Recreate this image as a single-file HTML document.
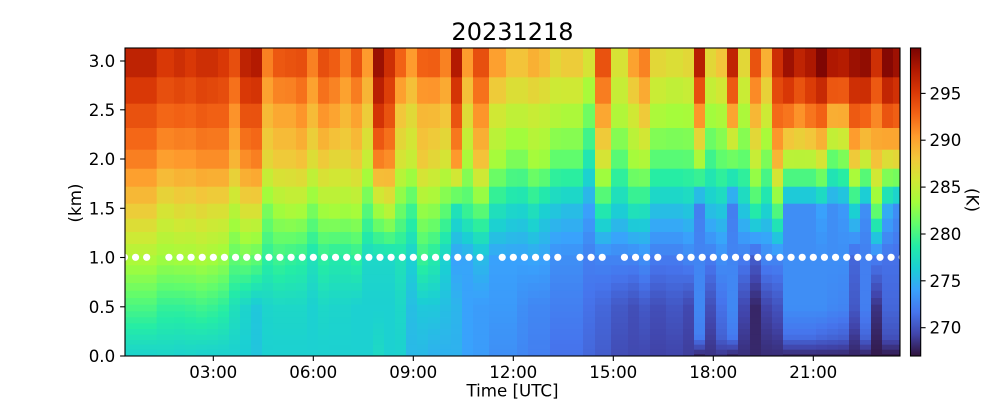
<!DOCTYPE html>
<html>
<head>
<meta charset="utf-8">
<style>
html,body{margin:0;padding:0;background:#fff;}
svg{display:block;}
svg text{font-family:"DejaVu Sans","Liberation Sans",sans-serif;fill:#000;}
</style>
</head>
<body>
<svg id="s" width="1000" height="400" viewBox="0 0 1000 400" xmlns="http://www.w3.org/2000/svg">
<defs>
<clipPath id="cp"><rect x="125" y="48" width="775" height="308"/></clipPath>
<linearGradient id="cb" x1="0" y1="1" x2="0" y2="0">
<stop offset="0" stop-color="#30123b"/>
<stop offset="0.0714" stop-color="#4145ab"/>
<stop offset="0.1429" stop-color="#4675ed"/>
<stop offset="0.2143" stop-color="#39a2fc"/>
<stop offset="0.2857" stop-color="#1bcfd4"/>
<stop offset="0.3571" stop-color="#24eca6"/>
<stop offset="0.4286" stop-color="#61fc6c"/>
<stop offset="0.5" stop-color="#a4fc3b"/>
<stop offset="0.5714" stop-color="#d1e834"/>
<stop offset="0.6429" stop-color="#f3c63a"/>
<stop offset="0.7143" stop-color="#fe9b2d"/>
<stop offset="0.7857" stop-color="#f36315"/>
<stop offset="0.8571" stop-color="#d93806"/>
<stop offset="0.9286" stop-color="#b11901"/>
<stop offset="1" stop-color="#7a0403"/>
</linearGradient>
</defs>
<rect width="1000" height="400" fill="#fff"/>
<g id="hm" clip-path="url(#cp)"></g>
<g id="dots" clip-path="url(#cp)" fill="#fff"></g>
<rect x="125" y="48" width="775" height="308" fill="none" stroke="#000" stroke-width="1.1"/>

<text x="512.5" y="40" font-size="24" text-anchor="middle">20231218</text>

<g stroke="#000" stroke-width="1.1">
<line x1="213.3" y1="356" x2="213.3" y2="361"/>
<line x1="313.3" y1="356" x2="313.3" y2="361"/>
<line x1="413.3" y1="356" x2="413.3" y2="361"/>
<line x1="513.3" y1="356" x2="513.3" y2="361"/>
<line x1="613.3" y1="356" x2="613.3" y2="361"/>
<line x1="713.3" y1="356" x2="713.3" y2="361"/>
<line x1="813.3" y1="356" x2="813.3" y2="361"/>
</g>
<g font-size="16.67" text-anchor="middle">
<text x="213.3" y="378">03:00</text>
<text x="313.3" y="378">06:00</text>
<text x="413.3" y="378">09:00</text>
<text x="513.3" y="378">12:00</text>
<text x="613.3" y="378">15:00</text>
<text x="713.3" y="378">18:00</text>
<text x="813.3" y="378">21:00</text>
<text x="512.5" y="396.5">Time [UTC]</text>
</g>

<g stroke="#000" stroke-width="1.1">
<line x1="120.1" y1="356" x2="125" y2="356"/>
<line x1="120.1" y1="306.8" x2="125" y2="306.8"/>
<line x1="120.1" y1="257.5" x2="125" y2="257.5"/>
<line x1="120.1" y1="208.3" x2="125" y2="208.3"/>
<line x1="120.1" y1="159" x2="125" y2="159"/>
<line x1="120.1" y1="109.8" x2="125" y2="109.8"/>
<line x1="120.1" y1="61" x2="125" y2="61"/>
</g>
<g font-size="16.67" text-anchor="end">
<text x="115.2" y="362">0.0</text>
<text x="115.2" y="312.8">0.5</text>
<text x="115.2" y="263.5">1.0</text>
<text x="115.2" y="214.3">1.5</text>
<text x="115.2" y="165">2.0</text>
<text x="115.2" y="115.8">2.5</text>
<text x="115.2" y="67">3.0</text>
</g>
<text font-size="16.67" text-anchor="middle" transform="translate(81,203) rotate(-90)">(km)</text>

<rect x="910.5" y="48" width="10.2" height="308" fill="url(#cb)" stroke="#000" stroke-width="1.1"/>
<g stroke="#000" stroke-width="1.1">
<line x1="920.7" y1="327.7" x2="925.6" y2="327.7"/>
<line x1="920.7" y1="280.8" x2="925.6" y2="280.8"/>
<line x1="920.7" y1="234" x2="925.6" y2="234"/>
<line x1="920.7" y1="187.1" x2="925.6" y2="187.1"/>
<line x1="920.7" y1="140.2" x2="925.6" y2="140.2"/>
<line x1="920.7" y1="93.4" x2="925.6" y2="93.4"/>
</g>
<g font-size="16.67" text-anchor="start">
<text x="929.5" y="333.7">270</text>
<text x="929.5" y="286.8">275</text>
<text x="929.5" y="240">280</text>
<text x="929.5" y="193.1">285</text>
<text x="929.5" y="146.2">290</text>
<text x="929.5" y="99.4">295</text>
</g>
<text font-size="16.67" text-anchor="middle" transform="translate(966.5,200) rotate(90)">(K)</text>
</svg>

<script>
(function(){
var NS="http://www.w3.org/2000/svg";
var st=["#30123b","#4145ab","#4675ed","#39a2fc","#1bcfd4","#24eca6","#61fc6c","#a4fc3b","#d1e834","#f3c63a","#fe9b2d","#f36315","#d93806","#b11901","#7a0403"].map(function(h){return [parseInt(h.substr(1,2),16),parseInt(h.substr(3,2),16),parseInt(h.substr(5,2),16)];});
function turbo(t){
  t=Math.max(0,Math.min(1,t));
  var p=t*14,i=Math.floor(p);if(i>=14)i=13;var f=p-i;
  var a=st[i],b=st[i+1];
  return "rgb("+Math.round(a[0]+(b[0]-a[0])*f)+","+Math.round(a[1]+(b[1]-a[1])*f)+","+Math.round(a[2]+(b[2]-a[2])*f)+")";
}
var VMIN=266.98,VMAX=299.82;
var H=[3.0,2.5,2.0,1.5,1.0,0.5,0.0];
var cols=[
[125,156.7,296.8,294,291.6,287.8,284,280.2,276.6],
[156.7,174,295.2,293,290.2,286.2,283.3,279.3,276.8],
[174,185,295.9,293.2,290.5,286.8,283.5,279.3,276.6],
[185,196,295.2,293,290.5,286.5,283.5,279.5,276.7],
[196,207,295.9,293.5,291,287,283.8,279.8,276.5],
[207,218,295.9,293.2,291,286.5,283.5,279.5,276.5],
[218,229,295.2,293.2,291,286.5,283,279,276.5],
[229,240,294,291,289,284.5,281,277.7,276.5],
[240,251,296.8,294,291,286.5,281.5,276.8,276.3],
[251,262,297.5,294,291.6,286.5,281,276,275.8],
[262,273,291.6,289,287,282,279,276.8,276.5],
[273,285,293.5,290,287.8,283.5,279.7,277,276.5],
[285,296,293.8,290,287.8,284,279.3,277,276.5],
[296,307,294,291,288.3,283.8,279,277,276.5],
[307,318,291.6,289,286.5,282,277.8,276.5,276.5],
[318,329,294,291,287.8,283.5,279,277,276.5],
[329,340,293.2,290.3,287,283.8,278.5,276.8,276.5],
[340,351,291.6,289,287,283.5,278.5,276.8,276.5],
[351,362,293.8,290.3,287.8,283.8,279,276.5,276.5],
[362,373,290.5,288,285.2,280.7,277,276.5,276.5],
[373,384,298.5,296,291.6,283.5,277,276.5,277.2],
[384,395,295.9,294,291,284.8,277,276.5,276.5],
[395,406,293,288.3,286,281.5,277.8,277,276.6],
[406,417,290.5,287,285.2,279.7,276.5,275.5,275.2],
[417,428,293,289,287.8,283,279.5,276,275.2],
[428,440,293.2,289,287,282.7,278.5,276,274.8],
[440,451,291.6,288.3,286,281,276.6,275.5,274.8],
[451,462,297.5,294,290.5,278,274,275,274.8],
[462,473,290.5,287,283.8,279.7,274.2,274,274],
[473,489,294,291,288.3,281,275.3,273.7,273.7],
[489,506,290.3,286,283.5,277.8,274,273.6,273],
[506,517,288.3,285.2,282,277,274,273.6,273],
[517,528,288.3,285.2,282,276.8,274,273,272.6],
[528,539,289.4,285.5,283.5,277.8,274.2,272.6,272.2],
[539,550,288.7,285.2,283.2,276.6,274,272.6,272.2],
[550,561,287,284.6,281,276,273,272.2,271.5],
[561,583,287.8,284.2,281,275.5,273,272.2,271.5],
[583,595,286.2,282,278.2,274,272.2,271.5,271],
[595,611,293.8,290.3,286,278.6,272.5,271,270.5],
[611,628,286.2,284.5,280.7,276.5,272.5,270.3,269.7],
[628,639,290.2,286,283.5,278,272.5,269.8,269.5],
[639,650,291.6,288.3,284,277.8,273,270.3,269.5],
[650,666,287,284.2,280.7,275.6,272,269.8,269.2],
[666,683,286.5,283.8,280.7,275.6,272,270.2,269.3],
[683,694,287,284,280.8,276,272.5,269.5,269],
[694,705,297.3,291.6,283.8,272.2,272.5,272.7,267.8,272.2],
[705,716,287,283.8,279.7,275.6,272,269.8,268.5],
[716,727,288.3,284.2,281,276,273,271.5,268.5,270.8],
[727,738,296.8,291,281.5,272.2,272.5,272.7,267.8,272],
[738,750,287,284.2,281,276,272,269.5,268.3],
[750,761,293.8,289.4,285.2,279,270.5,267.9,268],
[761,772,289.4,286,282,276.8,272.5,269.3,268.2],
[772,783,295.9,293,289,280.8,272.5,270,268.2],
[783,794,298.5,293,284.5,273,273,273,267.8,271.5],
[794,805,296.8,291.6,284.5,273,273,273,267.8,271.5],
[805,816,297.8,293,284.5,273,273,273,267.8,271.5],
[816,827,299.8,293.8,286,274,273,273,267.8,271.2],
[827,838,297.8,290.5,281,273,273,272.7,267.8,271],
[838,849,297.5,290.5,282,273.5,273,272.5,267.8,270.8],
[849,860,298.5,294,287.8,276.8,271,270.3,267.8],
[860,871,299,293.8,285.2,273,272.2,272.2,267.6,271],
[871,882,295.9,291.6,288.3,281.5,272,268.5,267.3],
[882,893,299.5,294.5,286.5,274.7,271.5,271,267.2,270],
[893,900.5,298.5,293.8,287,273,271.5,271,267.2,270]
];
var yb=[48,77.3,103.7,128,149.7,168.7,186.7,203.7,218.7,232,244,255.3,265.3,274.7,283,290.7,298,304.7,311.3,317.3,323.3,329,334.7,340,344.7,349.7,354,356.5];
function prof(c,h){
  if(c.length>9&&h<0.5){
    if(h>=0.2)return c[7]+(c[9]-c[7])*(0.5-h)/0.3;
    return c[9]+(c[8]-c[9])*(0.2-Math.max(h,0))/0.2;
  }
  if(h>=H[0])return c[2];
  if(h<=H[6])return c[8];
  for(var i=0;i<6;i++){
    if(h<=H[i]&&h>=H[i+1]){var f=(H[i]-h)/(H[i]-H[i+1]);return c[2+i]+(c[3+i]-c[2+i])*f;}
  }
  return c[8];
}
var g=document.getElementById("hm");
for(var ci=0;ci<cols.length;ci++){
  var c=cols[ci];
  for(var r=0;r<yb.length-1;r++){
    var y0=yb[r],y1=yb[r+1],yc=(y0+y1)/2,h=(356-yc)/98.33;
    var T=prof(c,h);
    var e=document.createElementNS(NS,"rect");
    e.setAttribute("x",c[0]);e.setAttribute("y",y0);
    e.setAttribute("width",(c[1]-c[0]+0.7).toFixed(2));
    e.setAttribute("height",(y1-y0+0.7).toFixed(2));
    e.setAttribute("fill",turbo((T-VMIN)/(VMAX-VMIN)));
    g.appendChild(e);
  }
}
var d=document.getElementById("dots");
var miss={4:1,34:1,41:1,45:1,50:1};
for(var k=1;k<=71;k++){
  if(miss[k])continue;
  var ci2=document.createElementNS(NS,"circle");
  ci2.setAttribute("cx",(113.33+11.111*k).toFixed(2));
  ci2.setAttribute("cy","257.3");
  ci2.setAttribute("r","3.6");
  d.appendChild(ci2);
}
})();
</script>
</body>
</html>
